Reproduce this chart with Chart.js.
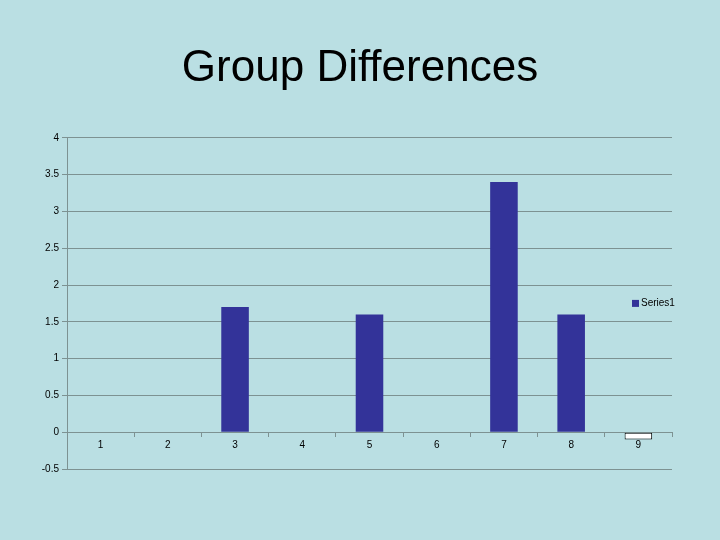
<!DOCTYPE html>
<html>
<head>
<meta charset="utf-8">
<title>Group Differences</title>
<script src="https://cdn.jsdelivr.net/npm/chart.js@4.4.1/dist/chart.umd.min.js"></script>
<style>
    html, body { margin: 0; padding: 0; background: #badfe3; }
    #wrap { width: 720px; height: 540px; position: relative; }
</style>
</head>
<body>
<div id="wrap"><canvas id="grafico"></canvas></div>
<script>
const categories = ['1', '2', '3', '4', '5', '6', '7', '8', '9'];
const series1 = [0, 0, 1.7, 0, 1.6, 0, 3.4, 1.6, -0.1];
const seriesName = 'Series1';
const yMin = -0.5;
const yMax = 4;
const yStep = 0.5;

const gridColor = '#7d9292';
const barColor = '#333399';
const fontFamily = '"Liberation Sans", Arial, sans-serif';

// legenda desenhada dentro da área do gráfico, como no original
const sideLegend = {
    id: 'sideLegend',
    afterDraw(chart) {
        const { ctx, chartArea } = chart;
        const y = (chartArea.top + chartArea.bottom) / 2;
        const x = chartArea.right - 40;
        ctx.save();
        ctx.fillStyle = barColor;
        ctx.fillRect(x, y - 3.5, 7, 7);
        ctx.fillStyle = '#000';
        ctx.font = '10px ' + fontFamily;
        ctx.textBaseline = 'middle';
        ctx.textAlign = 'left';
        ctx.fillText(chart.data.datasets[0].label, x + 9, y);
        ctx.restore();
    }
};

const ctx = document.getElementById('grafico').getContext('2d');
new Chart(ctx, {
    type: 'bar',
    data: {
        labels: categories,
        datasets: [{
            label: seriesName,
            data: series1,
            backgroundColor: series1.map(v => v < 0 ? '#ffffff' : barColor),
            borderColor: series1.map(v => v < 0 ? '#000000' : barColor),
            borderWidth: series1.map(v => v < 0 ? 1 : 0),
            borderSkipped: false,
            categoryPercentage: 1,
            barPercentage: 0.41
        }]
    },
    options: {
        responsive: true,
        maintainAspectRatio: false,
        animation: false,
        layout: { padding: { left: 0, right: 0, top: 0, bottom: 71 } },
        plugins: {
            legend: { display: false },
            tooltip: { enabled: false },
            title: {
                display: true,
                text: 'Group Differences',
                color: '#000',
                font: { family: fontFamily, size: 44, weight: 'normal' },
                padding: { top: 42, bottom: 43 }
            }
        },
        scales: {
            x: {
                position: { y: 0 },
                offset: true,
                grid: {
                    display: true,
                    drawOnChartArea: false,
                    tickLength: 4,
                    color: gridColor
                },
                border: { color: gridColor, width: 1 },
                ticks: {
                    color: '#000',
                    padding: 3,
                    font: { family: fontFamily, size: 10 }
                }
            },
            y: {
                min: yMin,
                max: yMax,
                afterFit(scale) { scale.width = 67; },
                ticks: {
                    stepSize: yStep,
                    color: '#000',
                    padding: 3,
                    font: { family: fontFamily, size: 10 },
                    callback: v => String(Number(v.toFixed(1)))
                },
                grid: { color: gridColor, tickLength: 5 },
                border: { color: gridColor, width: 1 }
            },
            // eixo vazio à direita só para reservar a margem (título fica centrado)
            margem: {
                type: 'linear',
                position: 'right',
                afterFit(scale) { scale.width = 48; },
                grid: { display: false },
                border: { display: false },
                ticks: { display: false }
            }
        }
    },
    plugins: [sideLegend]
});
</script>
</body>
</html>
